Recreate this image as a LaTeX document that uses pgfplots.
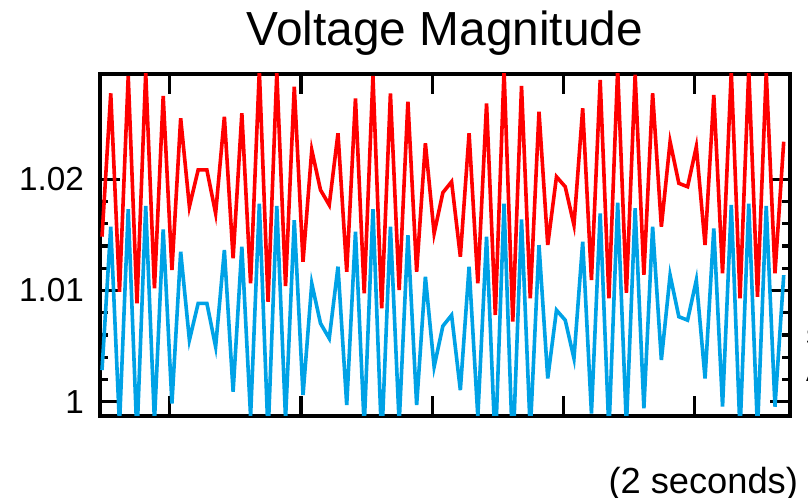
\documentclass[border=0pt]{standalone}
\usepackage{fontspec}
\setmainfont{Liberation Sans}
\usepackage{pgfplots}
\usepackage{pgfplotstable}
\pgfplotsset{compat=1.18}

\definecolor{vred}{RGB}{255,0,0}
\definecolor{vblue}{RGB}{0,162,230}

% sample index, red bus, blue bus
\pgfplotstableread{
k  red      blue
0  1.01484  1.00284
1  1.02773  1.01573
2  1.00989  0.99789
3  1.02930  1.01730
4  1.00885  0.99685
5  1.02960  1.01760
6  1.01020  0.99820
7  1.02749  1.01549
8  1.01184  0.99984
9  1.02549  1.01349
10 1.01754  1.00554
11 1.02084  1.00884
12 1.02084  1.00884
13 1.01694  1.00494
14 1.02563  1.01363
15 1.01290  1.00090
16 1.02594  1.01394
17 1.01065  0.99865
18 1.02980  1.01780
19 1.00899  0.99699
20 1.02960  1.01760
21 1.01040  0.99840
22 1.02833  1.01633
23 1.01259  1.00059
24 1.02263  1.01063
25 1.01904  1.00704
26 1.01769  1.00569
27 1.02414  1.01214
28 1.01169  0.99969
29 1.02728  1.01528
30 1.00975  0.99775
31 1.02930  1.01730
32 1.00840  0.99640
33 1.02773  1.01573
34 1.01004  0.99804
35 1.02698  1.01498
36 1.01169  0.99969
37 1.02324  1.01124
38 1.01514  1.00314
39 1.01880  1.00680
40 1.01978  1.00778
41 1.01304  1.00104
42 1.02414  1.01214
43 1.01065  0.99865
44 1.02683  1.01483
45 1.00780  0.99580
46 1.02980  1.01780
47 1.00720  0.99520
48 1.02839  1.01639
49 1.00930  0.99730
50 1.02608  1.01408
51 1.01409  1.00209
52 1.02023  1.00823
53 1.01933  1.00733
54 1.01589  1.00389
55 1.02638  1.01438
56 1.01094  0.99894
57 1.02893  1.01693
58 1.00930  0.99730
59 1.02990  1.01790
60 1.00980  0.99780
61 1.02940  1.01740
62 1.01140  0.99940
63 1.02773  1.01573
64 1.01574  1.00374
65 1.02338  1.01138
66 1.01964  1.00764
67 1.01933  1.00733
68 1.02293  1.01093
69 1.01409  1.00209
70 1.02758  1.01558
71 1.01155  0.99955
72 1.02970  1.01770
73 1.00930  0.99730
74 1.02980  1.01780
75 1.00944  0.99744
76 1.02960  1.01760
77 1.01155  0.99955
78 1.02338  1.01138
}\voltdata

\begin{document}
\begin{tikzpicture}
\useasboundingbox (0,0) rectangle (404bp,249bp);

\node[anchor=base, font=\fontsize{24}{28}\selectfont] at (222.5bp,226bp) {Voltage Magnitude};

\begin{axis}[
  at={(50bp,41bp)}, anchor=south west,
  scale only axis,
  width=345bp, height=171bp,
  xmin=-0.23, xmax=78.72,
  ymin=0.99871, ymax=1.02947,
  xtick={7.75,22.77,37.79,52.81,67.83},
  xticklabels={},
  ytick={1,1.01,1.02},
  minor y tick num=4,
  tick align=inside,
  major tick length=10bp,
  minor tick length=4bp,
  every tick/.style={black, line width=1.6bp},
  axis line style={line width=1.6bp},
  /pgf/number format/assume math mode=true,
  yticklabel style={font=\fontsize{16.7}{18}\selectfont, xshift=-4.5bp},
]
\addplot[vblue, line width=1.8bp] table[x=k, y=blue] {\voltdata};
\addplot[vred, line width=1.8bp] table[x=k, y=red] {\voltdata};
\end{axis}

\node[anchor=base east, font=\fontsize{18.2}{20}\selectfont] at (402.5bp,2.5bp) {(2 seconds)};
\node[anchor=base west, inner sep=0pt, font=\fontsize{16.7}{18}\selectfont] at (402.8bp,76bp) {s};
\node[anchor=base west, inner sep=0pt, font=\fontsize{16.7}{18}\selectfont] at (402.8bp,58bp) {A};
\end{tikzpicture}
\end{document}
